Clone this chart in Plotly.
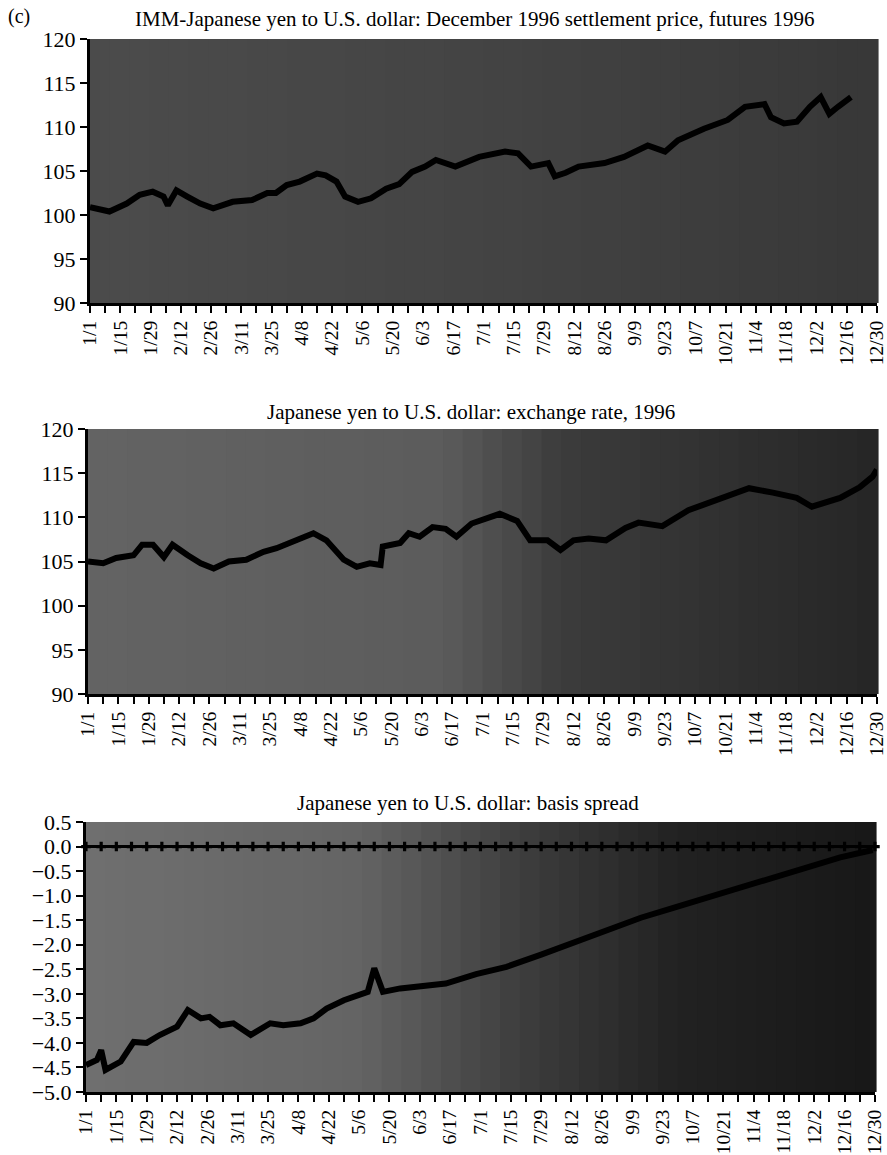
import plotly.graph_objects as go

# ---------------- DATA ----------------
# Panel 1: IMM futures (December 1996 contract) settlement price
fut_days = ["01/01", "01/10", "01/18", "01/24", "01/30", "02/04", "02/06", "02/10", "02/15",
            "02/21", "02/27", "03/07", "03/16", "03/23", "03/27", "04/01", "04/07", "04/15",
            "04/19", "04/24", "04/28", "05/04", "05/10", "05/17", "05/23", "05/29", "06/04",
            "06/09", "06/18", "06/29", "07/11", "07/17", "07/23", "07/31", "08/03", "08/08",
            "08/14", "08/26", "09/04", "09/15", "09/23", "09/29", "10/11", "10/22", "10/30",
            "11/08", "11/11", "11/17", "11/23", "11/29", "12/04", "12/08", "12/12", "12/18"]
fut_vals = [100.9, 100.4, 101.3, 102.3, 102.65, 102.1, 101.1, 102.8, 102.1,
            101.3, 100.75, 101.5, 101.7, 102.5, 102.5, 103.4, 103.8, 104.7,
            104.5, 103.8, 102.1, 101.5, 101.9, 103.0, 103.5, 104.9, 105.5,
            106.25, 105.5, 106.6, 107.2, 107.0, 105.5, 105.9, 104.4, 104.8,
            105.5, 105.9, 106.6, 107.9, 107.2, 108.5, 109.8, 110.8, 112.3,
            112.6, 111.1, 110.4, 110.6, 112.3, 113.4, 111.5, 112.3, 113.4]

# Panel 2: spot exchange rate
spot_days = ["01/01", "01/08", "01/14", "01/22", "01/26", "01/31", "02/05", "02/09", "02/16",
             "02/22", "02/28", "03/06", "03/14", "03/22", "03/28", "04/03", "04/09", "04/14",
             "04/20", "04/23", "04/28", "05/04", "05/10", "05/15", "05/16", "05/24", "05/28",
             "06/02", "06/08", "06/14", "06/19", "06/26", "07/09", "07/17", "07/23", "07/31",
             "08/06", "08/12", "08/19", "08/27", "09/05", "09/11", "09/22", "10/04", "10/20",
             "11/01", "11/12", "11/23", "11/30", "12/13", "12/22", "12/28", "12/30"]
spot_vals = [105.0, 104.8, 105.4, 105.7, 106.9, 106.9, 105.5, 106.9, 105.7,
             104.8, 104.2, 105.0, 105.2, 106.1, 106.5, 107.1, 107.8, 108.2,
             107.4, 106.5, 105.2, 104.4, 104.8, 104.6, 106.7, 107.1, 108.2,
             107.8, 108.9, 108.7, 107.8, 109.3, 110.4, 109.6, 107.4, 107.4,
             106.3, 107.4, 107.6, 107.4, 108.8, 109.4, 109.0, 110.8, 112.3,
             113.3, 112.8, 112.2, 111.2, 112.2, 113.4, 114.6, 115.4]

# Panel 3: basis spread
spread_days = ["01/01", "01/06", "01/08", "01/10", "01/17", "01/23", "01/29", "02/04", "02/12",
               "02/17", "02/23", "02/27", "03/03", "03/09", "03/17", "03/23", "03/26", "04/01",
               "04/09", "04/15", "04/21", "04/29", "05/05", "05/10", "05/13", "05/17", "05/25",
               "06/03", "06/15", "06/29", "07/13", "07/29", "08/13", "08/28", "09/13", "09/28",
               "10/13", "10/29", "11/14", "11/29", "12/14", "12/29"]
spread_vals = [-4.45, -4.35, -4.15, -4.55, -4.38, -3.98, -4.0, -3.84, -3.67,
               -3.33, -3.5, -3.47, -3.64, -3.6, -3.84, -3.7, -3.6, -3.64,
               -3.6, -3.5, -3.3, -3.13, -3.02, -2.96, -2.48, -2.96, -2.89,
               -2.85, -2.79, -2.6, -2.45, -2.2, -1.95, -1.7, -1.45, -1.25,
               -1.05, -0.85, -0.62, -0.42, -0.22, -0.07]

# weekly reference line at zero (panel 3)
zero_days = ["01/01", "01/08", "01/15", "01/22", "01/29", "02/05", "02/12", "02/19", "02/26",
             "03/04", "03/11", "03/18", "03/25", "04/01", "04/08", "04/15", "04/22", "04/29",
             "05/06", "05/13", "05/20", "05/27", "06/03", "06/10", "06/17", "06/24", "07/01",
             "07/08", "07/15", "07/22", "07/29", "08/05", "08/12", "08/19", "08/26", "09/02",
             "09/09", "09/16", "09/23", "09/30", "10/07", "10/14", "10/21", "10/28", "11/04",
             "11/11", "11/18", "11/25", "12/02", "12/09", "12/16", "12/23", "12/30"]
zero_vals = [0.0] * len(zero_days)

# x tick labels (every two weeks)
x_labels = ["1/1", "1/15", "1/29", "2/12", "2/26", "3/11", "3/25", "4/8", "4/22", "5/6",
            "5/20", "6/3", "6/17", "7/1", "7/15", "7/29", "8/12", "8/26", "9/9", "9/23",
            "10/7", "10/21", "11/4", "11/18", "12/2", "12/16", "12/30"]

# y tick labels
y1_vals = [90, 95, 100, 105, 110, 115, 120]
y1_text = ["90", "95", "100", "105", "110", "115", "120"]
y3_vals = [-5.0, -4.5, -4.0, -3.5, -3.0, -2.5, -2.0, -1.5, -1.0, -0.5, 0.0, 0.5]
y3_text = ["\u22125.0", "\u22124.5", "\u22124.0", "\u22123.5", "\u22123.0", "\u22122.5",
           "\u22122.0", "\u22121.5", "\u22121.0", "\u22120.5", "0.0", "0.5"]

titles = ["IMM-Japanese yen to U.S. dollar: December 1996 settlement price, futures 1996",
          "Japanese yen to U.S. dollar: exchange rate, 1996",
          "Japanese yen to U.S. dollar: basis spread"]
panel_tag = "(c)"


def to_date(md):
    m, d = md.split("/")
    return f"1996-{int(m):02d}-{int(d):02d}"


tick_dates = [to_date(s) for s in x_labels]
minor_dates = [to_date(s) for s in zero_days]

# ---------------- FIGURE ----------------
W, H = 887, 1155
FONT = "Liberation Serif"

fig = go.Figure()

fig.add_trace(go.Scatter(x=[to_date(d) for d in fut_days], y=fut_vals, mode="lines",
                         line=dict(color="black", width=6), xaxis="x", yaxis="y",
                         showlegend=False))
fig.add_trace(go.Scatter(x=[to_date(d) for d in spot_days], y=spot_vals, mode="lines",
                         line=dict(color="black", width=6), xaxis="x2", yaxis="y2",
                         showlegend=False))
fig.add_trace(go.Scatter(x=[to_date(d) for d in zero_days], y=zero_vals, mode="lines+markers",
                         line=dict(color="black", width=3),
                         marker=dict(symbol="cross", size=8, color="black"),
                         xaxis="x3", yaxis="y3", showlegend=False, cliponaxis=False))
fig.add_trace(go.Scatter(x=[to_date(d) for d in spread_days], y=spread_vals, mode="lines",
                         line=dict(color="black", width=6), xaxis="x3", yaxis="y3",
                         showlegend=False))

# panel pixel boxes: (left, right, top, bottom)
boxes = [(90, 877, 39, 303), (88, 877, 429, 694), (86, 875, 822, 1092)]


def px_dom(l, r, t, b):
    return [l / W, r / W], [1 - b / H, 1 - t / H]


axis_common = dict(showgrid=False, zeroline=False, showline=True, linecolor="black",
                   linewidth=3, ticks="outside", ticklen=7, tickwidth=2, tickcolor="black",
                   automargin=False, ticklabeloverflow="allow",
                   tickfont=dict(family=FONT, size=22, color="black"))

layout = dict(width=W, height=H, margin=dict(l=0, r=0, t=0, b=0, autoexpand=False),
              paper_bgcolor="white", plot_bgcolor="#4a4a4a", showlegend=False)

suffix = ["", "2", "3"]
for i, (l, r, t, b) in enumerate(boxes):
    xd, yd = px_dom(l, r, t, b)
    xa = dict(axis_common)
    xa.update(domain=xd, type="date", range=["1996-01-01", "1996-12-30 01:00"],
              tickmode="array", tickvals=tick_dates, ticktext=x_labels, tickangle=-90,
              tickfont=dict(family=FONT, size=19.5, color="black"),
              anchor="y" + suffix[i],
              minor=dict(tickvals=minor_dates, ticks="outside", ticklen=7, tickwidth=2,
                         tickcolor="black", showgrid=False))
    ya = dict(axis_common)
    if i < 2:
        ya.update(domain=yd, range=[90, 120], tickmode="array", tickvals=y1_vals,
                  ticktext=y1_text)
    else:
        ya.update(domain=yd, range=[-5.0, 0.5], tickmode="array", tickvals=y3_vals,
                  ticktext=y3_text)
    ya.update(anchor="x" + suffix[i])
    layout["xaxis" + suffix[i]] = xa
    layout["yaxis" + suffix[i]] = ya

fig.update_layout(**layout)

# background tone bands (scanned halftone look)
bg_stops = [
    [(0.0, 76), (0.5, 68), (1.0, 56)],
    [(0.0, 100), (0.45, 92), (0.6, 60), (1.0, 38)],
    [(0.0, 112), (0.35, 100), (0.55, 62), (0.75, 34), (1.0, 24)],
]
NB = 40
for i, stops in enumerate(bg_stops):
    for k in range(NB):
        f = (k + 0.5) / NB
        for j in range(len(stops) - 1):
            if stops[j][0] <= f <= stops[j + 1][0]:
                a = (f - stops[j][0]) / (stops[j + 1][0] - stops[j][0])
                g = int(stops[j][1] + a * (stops[j + 1][1] - stops[j][1]))
                break
        col = f"rgb({g},{g},{g})"
        fig.add_shape(type="rect", xref=f"x{suffix[i]} domain", yref=f"y{suffix[i]} domain",
                      x0=k / NB, x1=(k + 1) / NB + 0.002, y0=0, y1=1,
                      fillcolor=col, line=dict(width=0), layer="below")

# titles
title_pos = [(475, 19), (471, 412), (468, 803)]
for (cx, cy), txt in zip(title_pos, titles):
    fig.add_annotation(text=txt, x=cx / W, y=1 - cy / H, xref="paper", yref="paper",
                       showarrow=False, xanchor="center", yanchor="middle",
                       font=dict(family=FONT, size=21, color="black"))
fig.add_annotation(text=panel_tag, x=6 / W, y=1 - 17 / H, xref="paper", yref="paper",
                   showarrow=False, xanchor="left", yanchor="middle",
                   font=dict(family=FONT, size=20, color="black"))

fig.write_html("out.html")
